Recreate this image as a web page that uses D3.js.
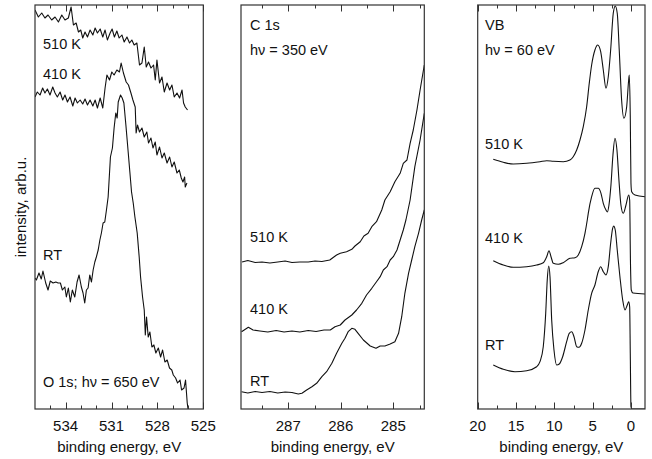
<!DOCTYPE html>
<html>
<head>
<meta charset="utf-8">
<script src="https://cdn.jsdelivr.net/npm/d3@7"></script>
<style>
  html, body { margin: 0; padding: 0; background: #fff; }
  text { font-family: "Liberation Sans", Arial, sans-serif; fill: #111; }
</style>
</head>
<body>
<script>
// ---------- O 1s core level, hv = 650 eV: [binding energy (eV), intensity (arb.u.)] ----------
const o1s510K = [[536.00,399],[535.78,392],[535.56,396],[535.35,391],[535.15,394],[534.91,389],[534.69,392],[534.47,387],[534.25,394],[534.04,389],[533.82,391],[533.64,402],[533.49,384],[533.31,386],[533.16,377],[533.01,379],[532.88,371],[532.73,377],[532.57,372],[532.40,379],[532.22,374],[532.07,381],[531.92,376],[531.74,380],[531.57,372],[531.42,379],[531.27,369],[531.09,376],[530.96,380],[530.81,372],[530.65,378],[530.50,371],[530.32,374],[530.17,367],[529.99,372],[529.82,366],[529.67,369],[529.52,364],[529.34,366],[529.17,344],[529.01,346],[528.86,362],[528.73,342],[528.58,347],[528.42,341],[528.25,344],[528.14,329],[528.03,349],[527.86,326],[527.70,332],[527.55,317],[527.37,326],[527.20,319],[527.05,324],[526.90,312],[526.72,316],[526.55,311],[526.39,319],[526.29,306],[526.18,302],[526.03,299]];
const o1s410K = [[536.00,312],[535.85,317],[535.67,314],[535.50,321],[535.35,316],[535.19,320],[535.02,314],[534.84,322],[534.69,316],[534.54,312],[534.36,317],[534.19,309],[534.04,314],[533.88,307],[533.71,312],[533.53,303],[533.38,311],[533.23,306],[533.05,309],[532.88,305],[532.73,310],[532.57,304],[532.40,309],[532.22,303],[532.07,309],[531.92,301],[531.74,311],[531.57,301],[531.42,321],[531.30,334],[531.13,329],[530.98,337],[530.83,334],[530.65,339],[530.48,337],[530.37,346],[530.22,336],[530.04,327],[529.89,324],[529.73,316],[529.60,309],[529.45,302],[529.39,276],[529.30,284],[529.17,277],[529.01,281],[528.86,272],[528.69,277],[528.58,266],[528.42,271],[528.29,261],[528.14,267],[528.03,254],[527.86,262],[527.70,251],[527.55,256],[527.37,246],[527.20,252],[527.05,242],[526.90,247],[526.72,236],[526.57,239],[526.44,231],[526.33,227],[526.22,232],[526.18,222],[526.07,226]];
const o1sRT = [[536.00,131],[535.91,129],[535.74,136],[535.59,130],[535.48,138],[535.30,126],[535.15,119],[535.00,128],[534.82,126],[534.64,127],[534.49,126],[534.34,126],[534.21,119],[534.05,122],[533.95,112],[533.82,121],[533.69,107],[533.56,119],[533.40,112],[533.25,127],[533.12,134],[532.97,122],[532.86,116],[532.75,106],[532.64,119],[532.53,121],[532.42,134],[532.31,127],[532.20,139],[532.09,147],[531.99,152],[531.87,159],[531.76,169],[531.66,176],[531.55,186],[531.44,187],[531.33,199],[531.22,212],[531.07,252],[530.94,261],[530.83,281],[530.72,296],[530.63,291],[530.56,307],[530.41,314],[530.30,311],[530.19,306],[530.06,284],[529.91,257],[529.80,237],[529.69,217],[529.58,206],[529.47,192],[529.32,176],[529.19,152],[529.10,132],[528.97,112],[528.86,99],[528.79,74],[528.71,92],[528.60,72],[528.49,77],[528.36,62],[528.23,64],[528.10,56],[527.94,61],[527.79,52],[527.66,59],[527.51,47],[527.36,49],[527.21,41],[527.06,39],[526.96,34],[526.81,31],[526.68,26],[526.52,29],[526.42,19],[526.26,21],[526.16,29],[526.05,6],[525.98,-2]];

// ---------- C 1s core level, hv = 350 eV ----------
const c1s510K = [[287.88,147],[287.77,148.5],[287.63,146.5],[287.50,147],[287.35,146],[287.20,147],[287.06,148],[286.93,146.5],[286.78,147],[286.62,147],[286.49,148],[286.36,147.5],[286.21,149],[286.08,154],[286.01,155.7],[285.89,157.3],[285.79,159.7],[285.73,163],[285.63,167.3],[285.56,173],[285.48,175.7],[285.41,182.3],[285.32,187.3],[285.22,199],[285.16,209],[285.06,217.3],[284.97,227.3],[284.87,235.7],[284.81,245.7],[284.74,249],[284.68,265.7],[284.62,279],[284.55,299],[284.49,319],[284.41,344]];
const c1s410K = [[287.89,77.3],[287.76,81.7],[287.67,79],[287.54,78],[287.39,77],[287.23,78.5],[287.08,77],[286.93,78],[286.78,77],[286.62,78.5],[286.47,77.5],[286.32,79],[286.20,79],[286.11,82.3],[286.01,84],[285.92,89],[285.79,94],[285.70,99],[285.60,105.7],[285.51,114],[285.41,120.7],[285.32,127.3],[285.25,132.3],[285.19,139],[285.12,142.3],[285.06,149],[285.00,152.3],[284.93,159],[284.87,169],[284.81,179],[284.76,189],[284.68,209],[284.59,242.3],[284.49,269],[284.41,295.7]];
const c1sRT = [[287.89,17.3],[287.77,16],[287.63,17.5],[287.50,16.5],[287.35,17.5],[287.20,16],[287.06,17],[286.93,16.5],[286.81,15],[286.74,15.7],[286.65,19],[286.55,22.3],[286.46,25.7],[286.36,32.3],[286.27,37.3],[286.17,45.7],[286.08,55.7],[285.98,65.7],[285.92,70.7],[285.86,77.3],[285.79,80.7],[285.73,79.7],[285.67,75.7],[285.57,69],[285.44,63],[285.33,60.7],[285.25,63],[285.16,63],[285.06,65],[284.97,67.3],[284.90,75.7],[284.84,92.3],[284.78,115.7],[284.71,135.7],[284.65,149],[284.59,162.3],[284.52,175.7],[284.46,189],[284.41,199]];

// ---------- Valence band, hv = 60 eV ----------
const vb510K = [[17.97,249.7],[16.66,246.7],[15.36,245],[13.61,245.7],[11.88,247.3],[11.00,248.3],[10.14,247.7],[8.84,247.3],[7.97,249],[7.54,252.3],[7.09,259],[6.66,269],[6.23,282.3],[5.79,302.3],[5.45,325.7],[5.14,344],[4.71,359],[4.35,364],[3.96,357.3],[3.62,339],[3.27,320.7],[2.97,332.3],[2.66,359],[2.32,395.7],[2.06,403],[1.80,395.7],[1.54,359],[1.23,309],[0.93,290.7],[0.57,302.3],[0.31,329],[0.23,334],[0.10,292.3],[0.01,225.7],[-0.08,217.3],[-0.51,214],[-1.82,212.3]];
const vb410K = [[17.97,148.3],[16.66,144],[15.36,141.7],[13.61,142.3],[12.31,144],[11.45,146.3],[11.00,152.3],[10.70,158.3],[10.44,152.3],[10.14,145.7],[9.49,144.7],[8.84,146.3],[7.97,150.7],[7.31,151.3],[6.88,154],[6.44,162.3],[6.01,175.7],[5.71,189],[5.58,195.7],[5.14,212.3],[4.71,220.7],[4.28,220.7],[3.92,215.7],[3.62,205.7],[3.27,199],[3.08,197],[2.88,204],[2.62,224],[2.36,254],[2.10,270.7],[1.84,259],[1.58,229],[1.32,204],[1.02,195.7],[0.66,204],[0.31,214],[0.18,209],[0.08,149],[-0.03,119],[-0.25,116],[-1.82,115]];
const vbRT = [[17.97,44],[16.66,39.7],[15.14,37.3],[13.61,38.3],[12.31,42.3],[11.88,47.3],[11.45,62.3],[11.13,95.7],[10.93,129],[10.74,143],[10.57,132.3],[10.35,89],[10.05,59],[9.70,44],[9.36,45],[8.92,52.3],[8.40,67.3],[8.06,75.7],[7.74,77.3],[7.44,72.3],[7.09,62.3],[6.79,61.7],[6.44,65.7],[6.01,79],[5.58,99],[5.14,115.7],[4.71,124],[4.28,137.3],[3.96,142.3],[3.62,137.3],[3.27,134],[2.97,142.3],[2.66,165.7],[2.40,180.7],[2.27,183],[2.06,179],[1.80,159],[1.45,132.3],[1.09,109],[0.79,99],[0.49,104],[0.31,107.3],[0.18,102.3],[0.10,55.7],[0.01,2.3],[-0.12,0],[-1.82,0]];

// ---------- axis ranges and ticks ----------
const o1sDomain = [536, 525];
const o1sMajor = [534, 531, 528, 525];
const o1sMinor = [535, 533, 532, 530, 529, 527, 526];
const c1sDomain = [287.9, 284.41];
const c1sMajor = [287, 286, 285];
const c1sMinor = [287.5, 286.5, 285.5, 284.5];
const vbDomain = [20, -1.82];
const vbMajor = [20, 15, 10, 5, 0];
const vbMinor = [17.5, 12.5, 7.5, 2.5];
const intensityDomain = [0, 404];

const W = 652, H = 459;
const frameTop = 5, frameBottom = 409;

const svg = d3.select("body").append("svg")
  .attr("width", W).attr("height", H);

const y = d3.scaleLinear().domain(intensityDomain).range([frameBottom, frameTop]);

const panels = [
  { id: "o1s", x0: 35, x1: 203.3, domain: o1sDomain, major: o1sMajor, minor: o1sMinor,
    series: [o1s510K, o1s410K, o1sRT], curve: d3.curveLinear,
    labels: [["510 K", 43, 48.5], ["410 K", 43, 78.5], ["RT", 43, 259.5], ["O 1s; hν = 650 eV", 43, 386.5]] },
  { id: "c1s", x0: 241, x1: 424.3, domain: c1sDomain, major: c1sMajor, minor: c1sMinor,
    series: [c1s510K, c1s410K, c1sRT], curve: d3.curveLinear,
    labels: [["C 1s", 250, 29.5], ["hν = 350 eV", 250, 55], ["510 K", 250, 241.5], ["410 K", 250, 313.5], ["RT", 250, 385.5]] },
  { id: "vb", x0: 477.7, x1: 645, domain: vbDomain, major: vbMajor, minor: vbMinor,
    series: [vb510K, vb410K, vbRT], curve: d3.curveMonotoneX,
    labels: [["VB", 485, 29.5], ["hν = 60 eV", 485, 54.5], ["510 K", 485, 148.5], ["410 K", 485, 242.5], ["RT", 485, 350]] }
];

panels.forEach(p => {
  const x = d3.scaleLinear().domain(p.domain).range([p.x0, p.x1]);
  const g = svg.append("g");

  g.append("clipPath").attr("id", "clip-" + p.id)
    .append("rect")
    .attr("x", p.x0).attr("y", frameTop)
    .attr("width", p.x1 - p.x0).attr("height", frameBottom - frameTop);

  const line = d3.line()
    .x(d => x(d[0]))
    .y(d => y(d[1]))
    .curve(p.curve);

  g.append("g").attr("clip-path", "url(#clip-" + p.id + ")")
    .selectAll("path").data(p.series).join("path")
    .attr("d", line)
    .attr("fill", "none")
    .attr("stroke", "#111")
    .attr("stroke-width", 1.1)
    .attr("stroke-linejoin", "round");

  // inward ticks on bottom and top edges
  const tickLayer = g.append("g").attr("stroke", "#333").attr("stroke-width", 1);
  const drawTicks = (vals, len) => {
    vals.forEach(v => {
      const xv = Math.round(x(v)) + 0.5;
      tickLayer.append("line").attr("x1", xv).attr("x2", xv).attr("y1", frameBottom).attr("y2", frameBottom - len);
      tickLayer.append("line").attr("x1", xv).attr("x2", xv).attr("y1", frameTop).attr("y2", frameTop + len);
    });
  };
  drawTicks(p.major, 6.5);
  drawTicks(p.minor, 3.5);

  // frame
  g.append("rect")
    .attr("x", p.x0).attr("y", frameTop)
    .attr("width", p.x1 - p.x0).attr("height", frameBottom - frameTop)
    .attr("fill", "none").attr("stroke", "#333").attr("stroke-width", 1.2);

  // tick labels
  g.selectAll("text.tick").data(p.major).join("text")
    .attr("class", "tick")
    .attr("x", d => x(d))
    .attr("y", 431)
    .attr("text-anchor", "middle")
    .attr("font-size", 15)
    .text(d => d);

  g.append("text")
    .attr("x", (p.x0 + p.x1) / 2)
    .attr("y", 451.5)
    .attr("text-anchor", "middle")
    .attr("font-size", 15)
    .text("binding energy, eV");

  g.selectAll("text.ann").data(p.labels).join("text")
    .attr("class", "ann")
    .attr("x", d => d[1]).attr("y", d => d[2])
    .attr("font-size", 14.5)
    .text(d => d[0]);
});

svg.append("text")
  .attr("transform", "translate(25.5,207) rotate(-90)")
  .attr("text-anchor", "middle")
  .attr("font-size", 15)
  .text("intensity, arb.u.");
</script>
</body>
</html>
